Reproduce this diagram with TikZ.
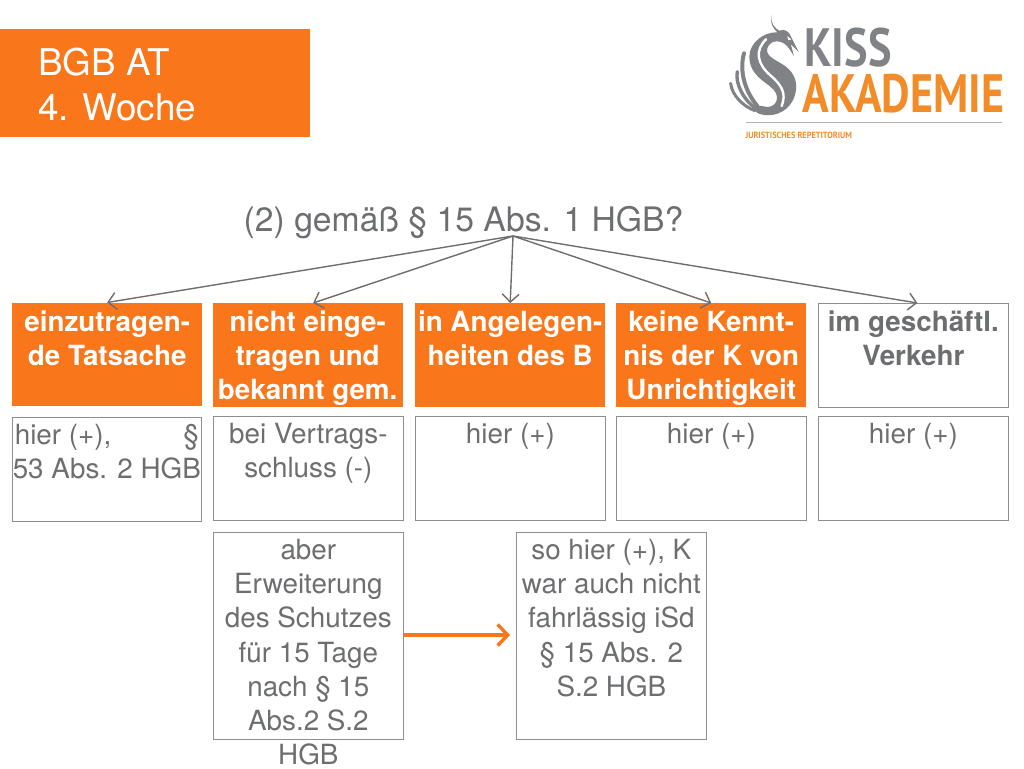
\documentclass[tikz,border=0pt]{standalone}
\usepackage{fontspec}
\setmainfont{TeX Gyre Heros}
\newfontfamily\logofont{PT Sans}
\usetikzlibrary{arrows.meta,calc}
\definecolor{kissorange}{HTML}{F9761A}
\definecolor{logoorange}{HTML}{F28C28}
\definecolor{kissgray}{HTML}{6D6E70}
\definecolor{logogray}{HTML}{808285}
\definecolor{boxline}{HTML}{8E8E8E}
\newcommand{\fsz}[2]{\fontsize{#1pt}{#2pt}\selectfont}
\tikzset{
  x=1pt,y=-1pt,
  plainbox/.style={draw=boxline,line width=1.2pt,fill=white,anchor=north west,inner sep=0pt,minimum width=189.5pt,minimum height=103.5pt},
  orangebox/.style={fill=kissorange,anchor=north west,inner sep=0pt,minimum width=190pt,minimum height=103.5pt},
  headtext/.style={anchor=north,inner sep=0pt,align=center,font=\fsz{27.8}{33.7}\bfseries,text=white},
  headgray/.style={headtext,text=kissgray},
  bodytext/.style={anchor=north,inner sep=0pt,align=center,font=\fsz{27.8}{34.2},text=kissgray},
  thinarrow/.style={draw=kissgray,line width=1.4pt,-{Straight Barb[length=8pt,width=17pt,line width=1.4pt]}},
  boldarrow/.style={draw=kissorange,line width=4pt,-{Straight Barb[length=10pt,width=21pt,line width=3.4pt]}},
  logotext/.style={anchor=center,inner sep=0pt},
}
\begin{document}
\begin{tikzpicture}
\useasboundingbox (0,0) rectangle (1024,768);
% title block
\node[fill=kissorange,anchor=north west,inner sep=0pt,minimum width=310pt,minimum height=108pt] (titlebox) at (0,29) {};
\node[anchor=north west,inner sep=0pt,align=left,font=\fsz{36.8}{45},text=white] (titletext) at (38,47.5) {BGB AT\\4. Woche};
% logo
\begin{scope}[shift={(720,0)},x=0.3333pt,y=-0.3333pt]
  \fill[logogray] (155,45) .. controls (150,70) and (165,85) .. (178,92) .. controls (195,85) and (208,95) .. (214,112) -- (236,156) -- (212,132) -- (222,168) -- (203,140)
    .. controls (185,118) and (150,118) .. (142,145) .. controls (135,170) and (170,180) .. (195,198)
    .. controls (225,220) and (235,250) .. (225,285) .. controls (212,330) and (170,350) .. (135,345) .. controls (115,343) and (105,338) .. (108,328) .. controls (110,316) and (122,316) .. (135,320)
    .. controls (160,325) and (178,305) .. (168,280) .. controls (155,250) and (88,235) .. (88,170) .. controls (88,130) and (130,95) .. (172,97) .. controls (160,85) and (148,70) .. (155,45) -- cycle;
  \draw[white,line width=2.4pt,line cap=round] (138,118) .. controls (105,150) and (110,190) .. (150,225) .. controls (185,255) and (200,280) .. (185,318);
  \fill[white] (202,108) -- (214,118) -- (205,121) -- cycle;
  \draw[logogray,line width=4pt,line cap=round] (72,160) .. controls (58,210) and (72,270) .. (112,318);
  \draw[logogray,line width=3.4pt,line cap=round] (52,215) .. controls (45,250) and (70,300) .. (108,326);
  \draw[logogray,line width=3pt,line cap=round] (32,250) .. controls (35,285) and (70,320) .. (105,332);
  \node[logotext,text=logogray] (logokiss) at (384,142) {\logofont\bfseries\fontsize{54pt}{54pt}\selectfont\scalebox{0.82}[1.0]{KISS}};
  \node[logotext,text=logoorange] (logoaka) at (550,282) {\logofont\bfseries\fontsize{54pt}{54pt}\selectfont\scalebox{0.815}[1.0]{AKADEMIE}};
  \node[fill=gray!60,inner sep=0pt,minimum width=256pt,minimum height=1pt,anchor=west] (logorule) at (76,368) {};
  \node[anchor=west,inner sep=0pt,text=logoorange] (logosub) at (76,405) {\logofont\bfseries\fontsize{9pt}{9pt}\selectfont\scalebox{0.92}[1.0]{JURISTISCHES REPETITORIUM}};
\end{scope}
% question
\node[anchor=base west,inner sep=0pt,font=\fsz{33.7}{34},text=kissgray] (frage) at (243.5,231) {(2) gemäß § 15 Abs. 1 HGB?};
\coordinate (apex) at (513,236);
% first row
\node[orangebox] (a) at (12,302.5) {};
\node[orangebox] (b) at (213,303) {};
\node[orangebox] (c) at (415,303) {};
\node[orangebox] (d) at (616,303) {};
\node[plainbox] (e) at (818,303) {};
\node[headtext] (at) at ($(a.north)+(0,8)$) {einzutragen-\\de Tatsache};
\node[headtext] (bt) at ($(b.north)+(-0.5,8)$) {nicht einge-\\tragen und\\bekannt gem.};
\node[headtext] (ct) at ($(c.north)+(0,8)$) {in Angelegen-\\heiten des B};
\node[headtext] (dt) at ($(d.north)+(0,8)$) {keine Kennt-\\nis der K von\\Unrichtigkeit};
\node[headgray] (et) at ($(e.north)+(0,8)$) {im geschäftl.\\Verkehr};
% second row
\node[plainbox] (a2) at (11.5,417) {};
\node[plainbox] (b2) at (213,416) {};
\node[plainbox] (c2) at (415,416) {};
\node[plainbox] (d2) at (616,416) {};
\node[plainbox] (e2) at (818,416) {};
\node[bodytext] (a2t) at ($(a2.north)+(0,7)$) {\makebox[184pt]{hier (+),\hfill §}\\53 Abs. 2 HGB};
\node[bodytext] (b2t) at ($(b2.north)+(0,7)$) {bei Vertrags-\\schluss (-)};
\node[bodytext] (c2t) at ($(c2.north)+(0,7)$) {hier (+)};
\node[bodytext] (d2t) at ($(d2.north)+(0,7)$) {hier (+)};
\node[bodytext] (e2t) at ($(e2.north)+(0,7)$) {hier (+)};
% third row
\node[plainbox,minimum height=207pt] (f) at (213,532) {};
\node[plainbox,minimum height=207pt] (g) at (516,532) {};
\node[bodytext] (ft) at ($(f.north)+(0,7)$) {aber\\Erweiterung\\des Schutzes\\für 15 Tage\\nach § 15\\Abs.2 S.2\\HGB};
\node[bodytext] (gt) at ($(g.north)+(0,7)$) {so hier (+), K\\war auch nicht\\fahrlässig iSd\\§ 15 Abs. 2\\S.2 HGB};
% connectors
\draw[thinarrow] (apex) -- (a.north);
\draw[thinarrow] (apex) -- ([xshift=5pt]b.north);
\draw[thinarrow] (apex) -- (c.north);
\draw[thinarrow] (apex) -- (d.north);
\draw[thinarrow] (apex) -- ([xshift=4pt]e.north);
\draw[boldarrow] (f.east |- 0,635) -- (510,635);
\end{tikzpicture}
\end{document}
